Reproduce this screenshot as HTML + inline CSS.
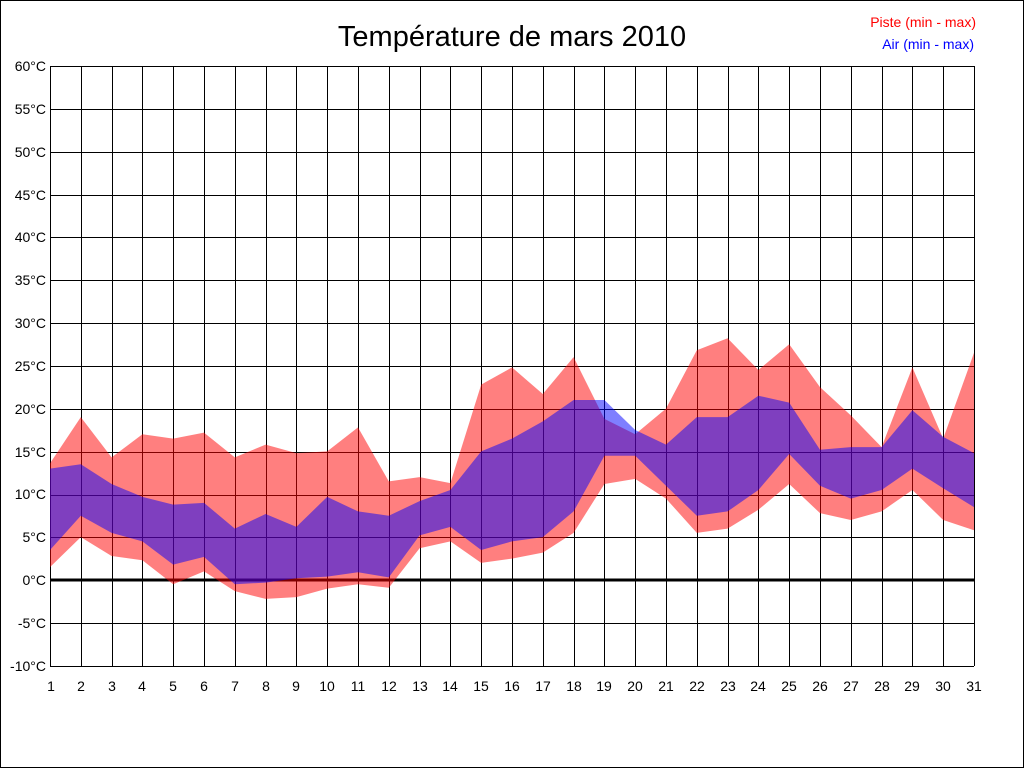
<!DOCTYPE html>
<html><head><meta charset="utf-8"><style>
html,body{margin:0;padding:0;background:#fff}
svg{display:block}
text{font-family:"Liberation Sans",Arial,sans-serif}
</style></head><body>
<svg id="s" width="1024" height="768" xmlns="http://www.w3.org/2000/svg">
<rect x="0.5" y="0.5" width="1023" height="767" fill="#fff" stroke="#000" stroke-width="1"/>
<g id="grid" stroke="#000" stroke-width="1"></g>
<line x1="50" y1="580" x2="974" y2="580" stroke="#000" stroke-width="3"/>
<polygon id="red" fill="rgba(255,0,0,0.5)"/>
<polygon id="blue" fill="rgba(0,0,255,0.5)"/>
<text x="512" y="46" font-size="29" text-anchor="middle">Température de mars 2010</text>
<text x="976" y="27" font-size="14" fill="#f00" text-anchor="end">Piste (min - max)</text>
<text x="974" y="49" font-size="14" fill="#00f" text-anchor="end">Air (min - max)</text>
<g font-size="14" text-anchor="end">
<text x="46" y="71">60°C</text><text x="46" y="114">55°C</text><text x="46" y="157">50°C</text>
<text x="46" y="200">45°C</text><text x="46" y="242">40°C</text><text x="46" y="285">35°C</text>
<text x="46" y="328">30°C</text><text x="46" y="371">25°C</text><text x="46" y="414">20°C</text>
<text x="46" y="457">15°C</text><text x="46" y="499">10°C</text><text x="46" y="542">5°C</text>
<text x="46" y="585">0°C</text><text x="46" y="628">-5°C</text><text x="46" y="671">-10°C</text>
</g>
<g font-size="14" text-anchor="middle">
<text x="51" y="691">1</text><text x="81" y="691">2</text><text x="112" y="691">3</text><text x="142" y="691">4</text><text x="173" y="691">5</text><text x="204" y="691">6</text><text x="235" y="691">7</text><text x="266" y="691">8</text><text x="296" y="691">9</text><text x="327" y="691">10</text><text x="358" y="691">11</text><text x="389" y="691">12</text><text x="420" y="691">13</text><text x="450" y="691">14</text><text x="481" y="691">15</text><text x="512" y="691">16</text><text x="543" y="691">17</text><text x="574" y="691">18</text><text x="604" y="691">19</text><text x="635" y="691">20</text><text x="666" y="691">21</text><text x="697" y="691">22</text><text x="728" y="691">23</text><text x="758" y="691">24</text><text x="789" y="691">25</text><text x="820" y="691">26</text><text x="851" y="691">27</text><text x="882" y="691">28</text><text x="912" y="691">29</text><text x="943" y="691">30</text><text x="974" y="691">31</text>
</g>
</svg>
<script>
var g=document.getElementById('grid'),ns='http://www.w3.org/2000/svg';
function X(i){return 50+i*30.8}function Y(v){return 580-v*600/70}
function ln(a,b,c,d){var l=document.createElementNS(ns,'line');l.setAttribute('x1',a);l.setAttribute('y1',b);l.setAttribute('x2',c);l.setAttribute('y2',d);g.appendChild(l);}
for(var k=0;k<=14;k++){var y=Math.round(66+k*600/14)+0.5;ln(50,y,974,y);}
for(var i=0;i<31;i++){var x=Math.round(X(i))+0.5;ln(x,66,x,666);}
var pmax=[13.6,19,14.3,17,16.5,17.2,14.3,15.8,14.8,15,17.8,11.5,12,11.3,22.8,24.8,21.7,26,18.8,17,20,26.8,28.2,24.5,27.5,22.5,19.2,15.5,24.8,16.5,26.5];
var pmin=[1.5,5,2.8,2.3,-0.5,1,-1.3,-2.2,-2,-1,-0.5,-0.9,3.7,4.5,2,2.5,3.2,5.5,11.2,11.8,9.5,5.5,6,8.2,11.2,7.8,7,8,10.5,7,5.8];
var amax=[13,13.5,11.2,9.7,8.8,9,6,7.7,6.2,9.7,8,7.5,9.2,10.5,15,16.5,18.5,21,21,17.5,15.8,19,19,21.5,20.7,15.2,15.5,15.5,19.8,16.7,14.8];
var amin=[3.5,7.5,5.5,4.5,1.8,2.7,-0.5,-0.3,0.2,0.4,0.9,0.3,5.2,6.2,3.5,4.5,5,8,14.5,14.5,11,7.5,8,10.5,14.7,11,9.5,10.5,13,10.7,8.5];
function poly(id,a,b){var p=[];for(var i=0;i<31;i++)p.push(X(i)+','+Y(a[i]));for(var i=30;i>=0;i--)p.push(X(i)+','+Y(b[i]));document.getElementById(id).setAttribute('points',p.join(' '));}
poly('red',pmax,pmin);poly('blue',amax,amin);
</script>
</body></html>
